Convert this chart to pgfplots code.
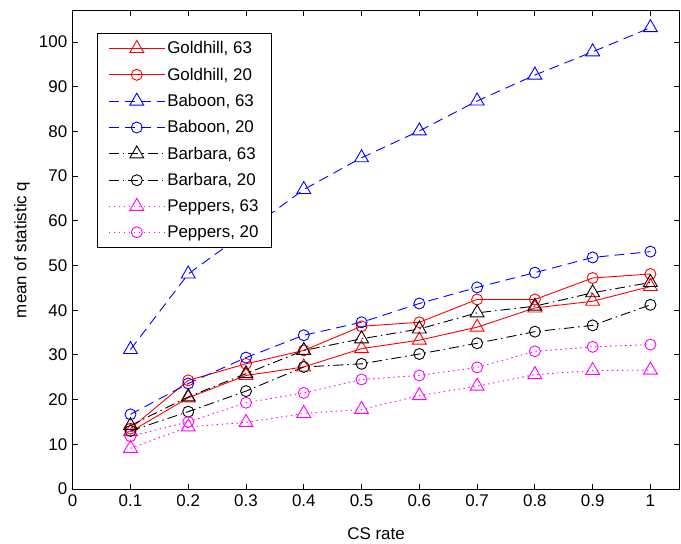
\documentclass[border=0pt]{standalone}
\usepackage{fontspec}
\setmainfont{Liberation Sans}
\usepackage{pgfplots}
\pgfplotsset{compat=1.18}
\definecolor{mmag}{rgb}{1,0,1}

% MATLAB-like line styles
\pgfplotsset{
  mdash/.style={dash pattern=on 10bp off 6bp},
  mdashdot/.style={dash pattern=on 10bp off 4bp on 1.5bp off 4bp},
  mdot/.style={dash pattern=on 1.5bp off 3.5bp},
  tri/.style={mark=triangle, mark size=8bp, mark options={solid}},
  circ/.style={mark=o, mark size=5.5bp, mark options={solid}},
}

\begin{document}
\begin{tikzpicture}
\begin{axis}[
    scale only axis,
    width=606.6bp, height=478.3bp,
    xmin=0, xmax=1.05,
    ymin=0, ymax=107,
    xtick={0,0.1,0.2,0.3,0.4,0.5,0.6,0.7,0.8,0.9,1},
    ytick={0,10,20,30,40,50,60,70,80,90,100},
    tick align=inside,
    major tick length=5.5bp,
    /pgf/number format/assume math mode=true,
    font=\fontsize{17}{20}\selectfont,
    tick label style={font=\fontsize{17}{20}\selectfont},
    xticklabel style={yshift=-2bp},
    yticklabel style={xshift=-2bp},
    axis line style={line width=0.8bp},
    every tick/.style={black, line width=0.8bp},
    xlabel={CS rate},
    ylabel={mean of statistic q},
    xlabel style={at={(axis description cs:0.5,-0.094)}, anchor=center},
    ylabel style={at={(axis description cs:-0.0836,0.5)}, anchor=center},
    legend style={
      at={(axis description cs:0.040,0.954)}, anchor=north west,
      draw=black, line width=0.8bp,
      font=\fontsize{17}{20}\selectfont,
      row sep=8.6bp, inner xsep=11bp, inner ysep=6.5bp,
    },
    legend cell align=left,
    legend image code/.code={
      \draw[mark repeat=2, mark phase=2, line width=0.9bp]
        plot coordinates {(0bp,0bp) (28bp,0bp) (56bp,0bp)};
    },
    every axis plot/.append style={line width=0.9bp},
]

\addplot[red, tri] coordinates {
  (0.1,12.8)(0.2,20.4)(0.3,25.4)(0.4,27.3)(0.5,31.4)(0.6,33.3)(0.7,36.2)(0.8,40.5)(0.9,42.0)(1,45.3)
};
\addplot[red, circ] coordinates {
  (0.1,13.5)(0.2,24.3)(0.3,28.0)(0.4,31.0)(0.5,36.4)(0.6,37.3)(0.7,42.4)(0.8,42.4)(0.9,47.2)(1,48.1)
};
\addplot[blue, mdash, tri] coordinates {
  (0.1,31.2)(0.2,48.1)(0.3,57.5)(0.4,67.0)(0.5,74.1)(0.6,80.1)(0.7,86.8)(0.8,92.6)(0.9,97.8)(1,103.2)
};
\addplot[blue, mdash, circ] coordinates {
  (0.1,16.7)(0.2,23.6)(0.3,29.4)(0.4,34.4)(0.5,37.3)(0.6,41.5)(0.7,45.1)(0.8,48.4)(0.9,51.8)(1,53.1)
};
\addplot[black, mdashdot, tri] coordinates {
  (0.1,14.2)(0.2,20.6)(0.3,25.8)(0.4,31.0)(0.5,33.6)(0.6,35.8)(0.7,39.4)(0.8,40.9)(0.9,43.9)(1,46.2)
};
\addplot[black, mdashdot, circ] coordinates {
  (0.1,13.0)(0.2,17.3)(0.3,21.9)(0.4,27.3)(0.5,28.0)(0.6,30.2)(0.7,32.6)(0.8,35.2)(0.9,36.6)(1,41.2)
};
\addplot[mmag, mdot, tri] coordinates {
  (0.1,9.1)(0.2,13.9)(0.3,14.9)(0.4,16.9)(0.5,17.8)(0.6,20.9)(0.7,23.0)(0.8,25.6)(0.9,26.5)(1,26.6)
};
\addplot[mmag, mdot, circ] coordinates {
  (0.1,11.8)(0.2,15.0)(0.3,19.3)(0.4,21.5)(0.5,24.5)(0.6,25.4)(0.7,27.2)(0.8,30.8)(0.9,31.8)(1,32.3)
};
\legend{{Goldhill, 63}, {Goldhill, 20}, {Baboon, 63}, {Baboon, 20}, {Barbara, 63}, {Barbara, 20}, {Peppers, 63}, {Peppers, 20}}
\end{axis}
\pgfresetboundingbox
\path ([shift={(-72.7bp,-55bp)}]current axis.south west) rectangle ([shift={(1.7bp,10.7bp)}]current axis.north east);
\end{tikzpicture}
\end{document}
